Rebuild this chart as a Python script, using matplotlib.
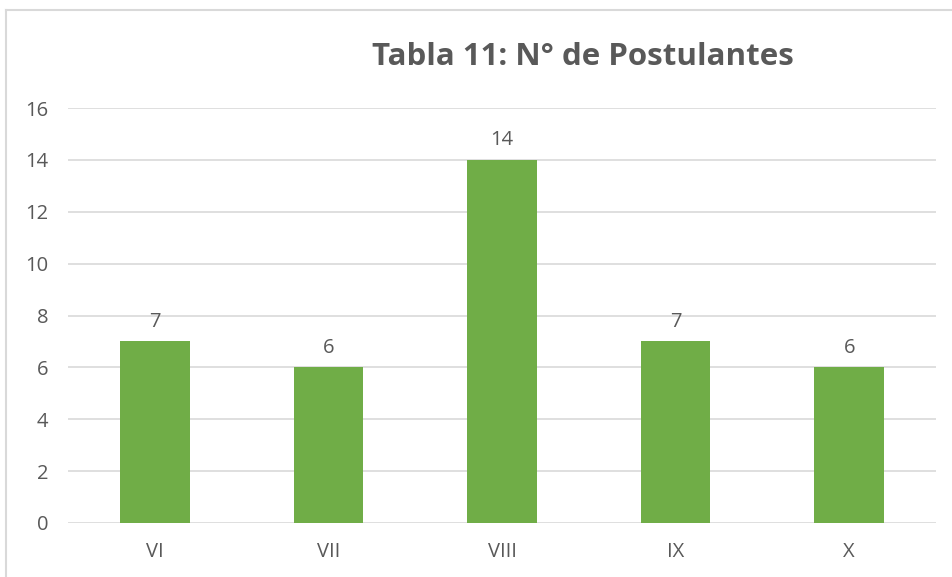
import matplotlib.pyplot as plt
from matplotlib.lines import Line2D

categories = ["VI", "VII", "VIII", "IX", "X"]
values = [7, 6, 14, 7, 6]
yticks = [0, 2, 4, 6, 8, 10, 12, 14, 16]

plt.rcParams['font.family'] = ['Open Sans', 'DejaVu Sans']
text_color = "#595959"

fig = plt.figure(figsize=(9.53, 5.77), dpi=100)
ax = fig.add_axes([68 / 953, 1 - 523 / 577, (936 - 68) / 953, (523 - 108) / 577])

x = range(len(categories))
bars = ax.bar(x, values, width=0.4, color="#70ad47", zorder=3)
for b, v in zip(bars, values):
    ax.annotate(str(v), (b.get_x() + b.get_width() / 2, v), xytext=(0, 7),
                textcoords="offset points", ha="center", va="bottom",
                fontsize=14.5, color=text_color)

ax.set_xlim(-0.5, len(categories) - 0.5)
ax.set_ylim(0, 16)
ax.set_yticks(yticks)
ax.set_xticks(list(x))
ax.set_xticklabels(categories)
ax.tick_params(axis="both", length=0, labelsize=14.5, colors=text_color)
ax.tick_params(axis="x", pad=14)
ax.tick_params(axis="y", pad=14)
ax.grid(axis="y", color="#d9d9d9", linewidth=1.2, zorder=0)
for s in ax.spines.values():
    s.set_visible(False)

fig.text(0.612, 0.902, "Tabla 11: N° de Postulantes", ha="center", va="center",
         fontsize=22.5, fontweight="bold", color=text_color)

# chart area border (only top and left visible in the crop)
fig.add_artist(Line2D([6 / 953, 6 / 953], [0, 1 - 10 / 577], color="#d9d9d9", linewidth=1.5))
fig.add_artist(Line2D([6 / 953, 1], [1 - 10 / 577, 1 - 10 / 577], color="#d9d9d9", linewidth=1.5))

fig.savefig("out.png", dpi=100)
